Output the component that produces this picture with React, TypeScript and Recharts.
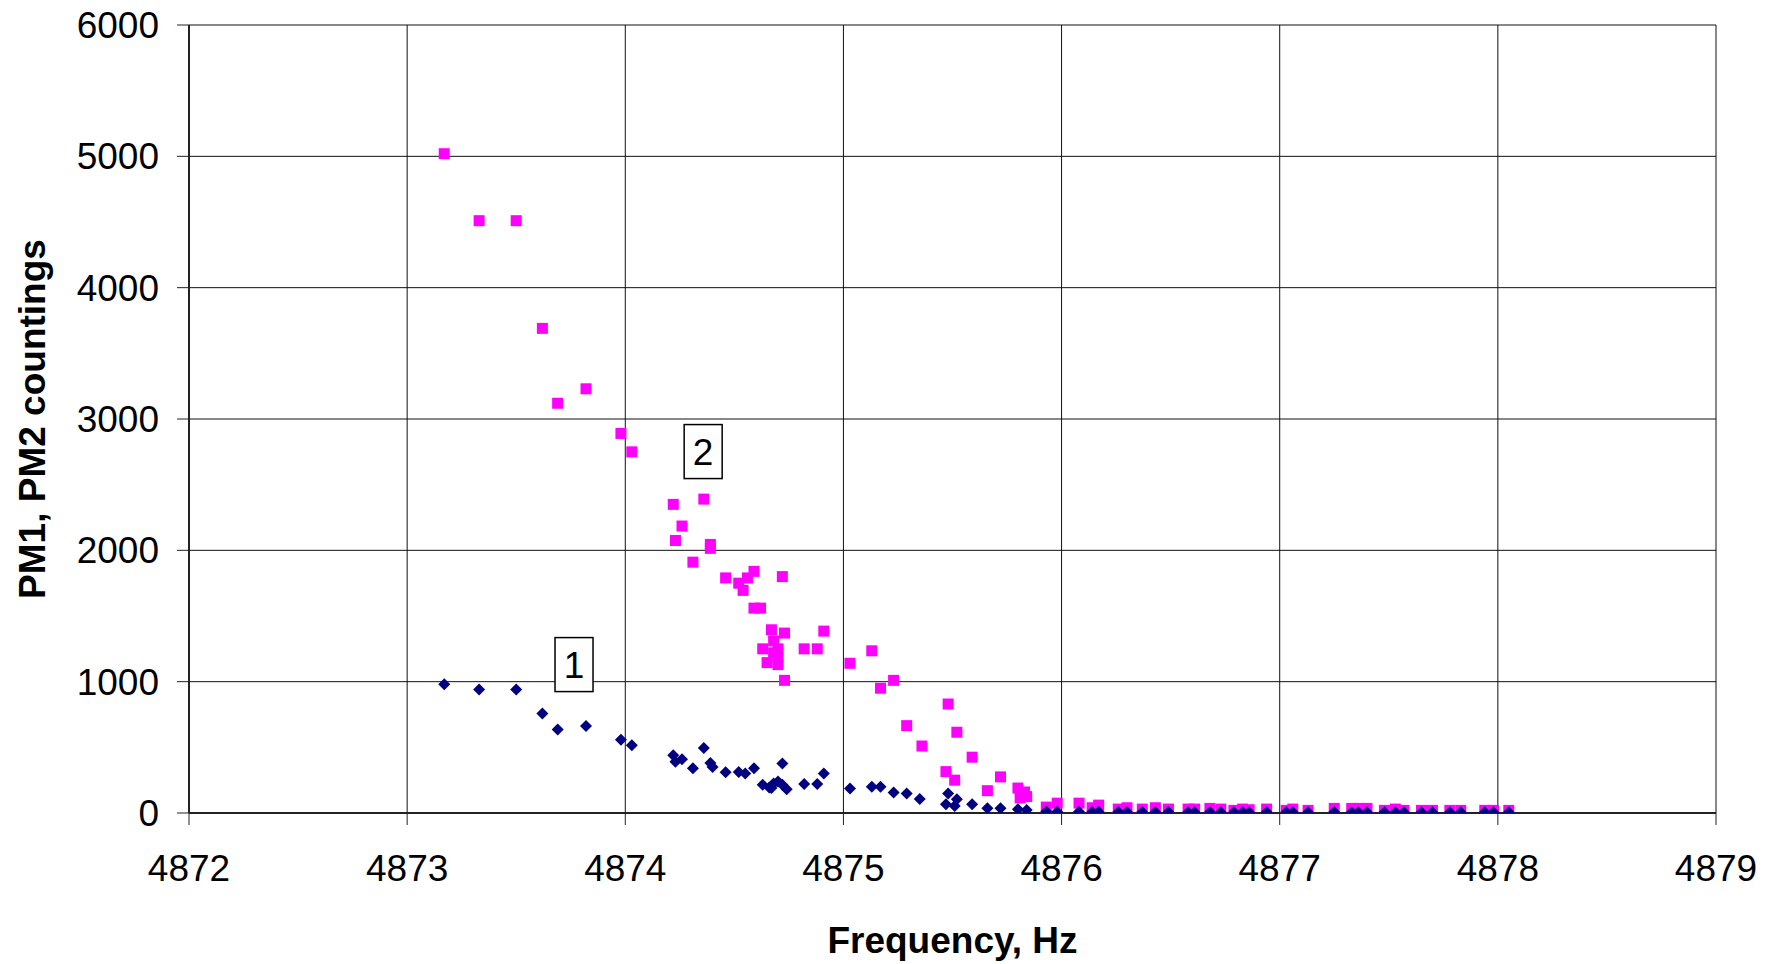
import React from "react";
import {
  ScatterChart,
  Scatter,
  XAxis,
  YAxis,
  CartesianGrid,
  ReferenceDot,
  Label,
} from "recharts";

// PM1 (curve 1, navy diamonds)
const pm1Freq = [
  4873.17, 4873.33, 4873.5, 4873.62, 4873.69, 4873.82, 4873.98, 4874.03,
  4874.22, 4874.23, 4874.26, 4874.36, 4874.31, 4874.39, 4874.4, 4874.46,
  4874.52, 4874.55, 4874.59, 4874.72, 4874.63, 4874.66, 4874.68, 4874.7,
  4874.72, 4874.74, 4874.67, 4874.82, 4874.88, 4874.91, 4875.03, 4875.13,
  4875.17, 4875.23, 4875.29, 4875.35, 4875.48, 4875.47, 4875.52, 4875.51,
  4875.59, 4875.66, 4875.72, 4875.8, 4875.84, 4875.93, 4875.98, 4876.08,
  4876.14, 4876.17, 4876.26, 4876.3, 4876.37, 4876.43, 4876.49, 4876.58,
  4876.61, 4876.68, 4876.73, 4876.79, 4876.83, 4876.86, 4876.94, 4877.03,
  4877.06, 4877.13, 4877.25, 4877.33, 4877.36, 4877.4, 4877.48, 4877.53,
  4877.57, 4877.65, 4877.7, 4877.78, 4877.83, 4877.94, 4877.98, 4878.05,
];
const pm1Count = [
  980, 940, 940, 757, 636, 663, 558, 515,
  440, 390, 410, 495, 340, 380, 350, 310,
  313, 300, 340, 376, 215, 195, 225, 240,
  215, 180, 190, 220, 220, 300, 187, 200,
  200, 157, 149, 106, 149, 66, 104, 53,
  66, 36, 36, 28, 23, 12, 10, 10,
  8, 10, 8, 8, 8, 8, 8, 6,
  6, 8, 6, 6, 6, 6, 6, 6,
  6, 6, 8, 6, 6, 6, 5, 5,
  5, 5, 5, 5, 5, 5, 5, 5,
];

// PM2 (curve 2, magenta squares)
const pm2Freq = [
  4873.17, 4873.33, 4873.5, 4873.62, 4873.69, 4873.82, 4873.98, 4874.03,
  4874.22, 4874.36, 4874.26, 4874.23, 4874.39, 4874.39, 4874.31, 4874.46,
  4874.52, 4874.54, 4874.56, 4874.59, 4874.72, 4874.59, 4874.62, 4874.67,
  4874.73, 4874.91, 4874.68, 4874.63, 4874.7, 4874.68, 4874.7, 4874.65,
  4874.7, 4874.82, 4874.88, 4874.73, 4875.03, 4875.13, 4875.17, 4875.23,
  4875.29, 4875.36, 4875.48, 4875.52, 4875.59, 4875.47, 4875.51, 4875.72,
  4875.66, 4875.8, 4875.83, 4875.81, 4875.84, 4875.93, 4875.98, 4876.08,
  4876.14, 4876.17, 4876.26, 4876.3, 4876.37, 4876.43, 4876.49, 4876.58,
  4876.61, 4876.68, 4876.73, 4876.79, 4876.83, 4876.86, 4876.94, 4877.03,
  4877.06, 4877.13, 4877.25, 4877.33, 4877.36, 4877.4, 4877.48, 4877.53,
  4877.57, 4877.65, 4877.7, 4877.78, 4877.83, 4877.94, 4877.98, 4878.05,
];
const pm2Count = [
  5020, 4510, 4510, 3690, 3120, 3230, 2890, 2750,
  2350, 2390, 2185, 2075, 2045, 2015, 1910, 1790,
  1750, 1695, 1790, 1840, 1800, 1560, 1560, 1395,
  1370, 1385, 1310, 1250, 1250, 1220, 1185, 1145,
  1130, 1250, 1250, 1010, 1140, 1235, 950, 1010,
  665, 510, 830, 615, 425, 315, 250, 275,
  170, 190, 160, 115, 125, 45, 75, 75,
  40, 60, 30, 40, 30, 40, 30, 30,
  30, 35, 30, 20, 30, 25, 30, 20,
  30, 20, 35, 35, 35, 35, 20, 30,
  20, 20, 20, 20, 20, 20, 20, 20,
];

const xTicks = [4872, 4873, 4874, 4875, 4876, 4877, 4878, 4879];
const yTicks = [0, 1000, 2000, 3000, 4000, 5000, 6000];

// curve number boxes: [label, frequency, counting]
const curveLabels: [string, number, number][] = [
  ["1", 4873.765, 1130],
  ["2", 4874.357, 2752],
];

const FONT = '"Liberation Sans", Arial, sans-serif';

const pm1Data = pm1Freq.map((f, i) => ({ f, c: pm1Count[i] }));
const pm2Data = pm2Freq.map((f, i) => ({ f, c: pm2Count[i] }));

const Square = (props: any) => {
  const { cx, cy } = props;
  return <rect x={cx - 5.5} y={cy - 5.5} width={11} height={11} fill="#FF00FF" />;
};

const Diamond = (props: any) => {
  const { cx, cy } = props;
  const r = 6;
  return (
    <path
      d={`M${cx},${cy - r}L${cx + r},${cy}L${cx},${cy + r}L${cx - r},${cy}Z`}
      fill="#000080"
    />
  );
};

const LabelBox = (text: string) => (props: any) => {
  const { cx, cy } = props;
  return (
    <g>
      <rect
        x={cx - 19}
        y={cy - 27}
        width={38}
        height={54}
        fill="#fff"
        stroke="#000"
        strokeWidth={1.5}
      />
      <text
        x={cx}
        y={cy + 13}
        textAnchor="middle"
        fontSize={37}
        fontFamily={FONT}
        fill="#000"
      >
        {text}
      </text>
    </g>
  );
};

export default function App() {
  return (
    <div style={{ position: "absolute", left: 0, top: 0, background: "#fff" }}>
      <ScatterChart
        width={1786}
        height={964}
        margin={{ top: 25, right: 70, bottom: 0, left: 0 }}
      >
        <CartesianGrid stroke="#111" strokeWidth={1} />
        <XAxis
          type="number"
          dataKey="f"
          domain={[4872, 4879]}
          ticks={xTicks}
          allowDataOverflow
          height={151}
          tickSize={12}
          tickMargin={30}
          axisLine={{ stroke: "#222", strokeWidth: 2 }}
          tickLine={{ stroke: "#222", strokeWidth: 1 }}
          tick={{ fill: "#000", fontSize: 37, fontFamily: FONT }}
        >
          <Label
            content={(p: any) => {
              const vb = p.viewBox || { x: 189, y: 813, width: 1527, height: 151 };
              return (
                <text
                  x={vb.x + vb.width / 2}
                  y={vb.y + 140}
                  textAnchor="middle"
                  fontSize={37}
                  fontWeight="bold"
                  fontFamily={FONT}
                  fill="#000"
                >
                  Frequency, Hz
                </text>
              );
            }}
          />
        </XAxis>
        <YAxis
          type="number"
          dataKey="c"
          domain={[0, 6000]}
          ticks={yTicks}
          allowDataOverflow
          width={189}
          tickSize={12}
          tickMargin={18}
          axisLine={{ stroke: "#222", strokeWidth: 2 }}
          tickLine={{ stroke: "#222", strokeWidth: 1 }}
          tick={{ fill: "#000", fontSize: 37, fontFamily: FONT }}
        >
          <Label
            content={(p: any) => {
              const vb = p.viewBox || { x: 0, y: 25, width: 189, height: 788 };
              const x = vb.x + 45;
              const y = vb.y + vb.height / 2;
              return (
                <text
                  x={x}
                  y={y}
                  transform={`rotate(-90, ${x}, ${y})`}
                  textAnchor="middle"
                  fontSize={37}
                  fontWeight="bold"
                  fontFamily={FONT}
                  fill="#000"
                >
                  PM1, PM2 countings
                </text>
              );
            }}
          />
        </YAxis>
        <Scatter data={pm2Data} shape={Square} isAnimationActive={false} />
        <Scatter data={pm1Data} shape={Diamond} isAnimationActive={false} />
        {curveLabels.map(([t, f, c]) => (
          <ReferenceDot key={t} x={f} y={c} r={0} shape={LabelBox(t)} />
        ))}
      </ScatterChart>
    </div>
  );
}
